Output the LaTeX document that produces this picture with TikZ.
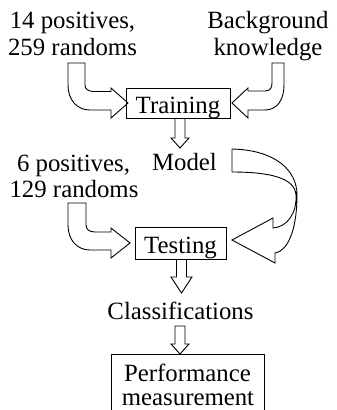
\documentclass[tikz,border=0pt]{standalone}
\usepackage{fontspec}
\setmainfont{Liberation Serif}
\begin{document}
\begin{tikzpicture}[x=1pt,y=-1pt, line width=0.9pt,
  every node/.style={font=\fontsize{24.8}{26.5}\selectfont, inner sep=0pt},
  txt/.style={anchor=base},
  boxnode/.style={draw, text height=20pt, text depth=0pt},
  fat/.style={draw, line join=miter, miter limit=10}]
\clip (0,0) rectangle (337,410);

% text blocks
\node[txt] (a1) at (72.5,28) {14 positives,};
\node[txt] (a2) at (72.5,55) {259 randoms};
\node[txt] (b1) at (268,28) {Background};
\node[txt] (b2) at (268,55) {knowledge};
\node[boxnode, minimum width=104pt, minimum height=30pt] (train) at (178,103) {Training};
\node[txt] (model) at (184.5,170) {Model};
\node[txt] (c1) at (73.5,171) {6 positives,};
\node[txt] (c2) at (74,197) {129 randoms};
\node[boxnode, minimum width=91pt, minimum height=32pt] (test) at (180.5,243) {Testing};
\node[txt] (cls) at (180.5,319) {Classifications};
\node[draw, minimum width=153pt, minimum height=80pt, anchor=north] (perf) at (187.5,354) {};
\node[txt] (p1) at (187.5,381.5) {Performance};
\node[txt] (p2) at (188,405.5) {measurement};

% bent arrow: training data -> Training
\draw[fat] (68,63) -- (85,63) -- (85,85) .. controls (85,89) and (88,91.5) .. (94,91.5)
  -- (111,91.5) -- (111,88) -- (128,103) -- (111,118) -- (111,110) -- (90,110)
  .. controls (77,110) and (68,100) .. (68,85) -- cycle;
% bent arrow: background knowledge -> Training
\draw[fat] (284,63) -- (272,63) -- (272,83) .. controls (272,88) and (270,91) .. (265,91)
  -- (248,91) -- (248,88) -- (232,103) -- (248,118) -- (248,110) -- (265,110)
  .. controls (277,110) and (284,100) .. (284,85) -- cycle;
% bent arrow: test data -> Testing
\draw[fat] (68,203) -- (86,203) -- (86,225) .. controls (86,229) and (89,232) .. (95,232)
  -- (111,232) -- (111,228) -- (130,243) -- (111,258) -- (111,250) -- (90,250)
  .. controls (77,250) and (68,240) .. (68,225) -- cycle;
% curved arrow: Model -> Testing
\draw[fat] (232,149) .. controls (275,150) and (297,170) .. (297,195)
  .. controls (297,225) and (290,250) .. (275,253)
  -- (275,263) -- (232,240) -- (273,218) -- (273,228)
  .. controls (288,227) and (297,212) .. (296,195)
  .. controls (295,178) and (270,172) .. (232,172) -- cycle;

% straight block arrows
\draw[fat] (train.south -| 175,0) -- (175,138) -- (171,138) -- (180,148) -- (189,138) -- (185,138) -- (train.south -| 185,0);
\draw[fat] (test.south -| 176.5,0) -- (176.5,277) -- (171,277) -- (181.5,293) -- (192,277) -- (186.5,277) -- (test.south -| 186.5,0);
\draw[fat] (175,326) -- (185,326) -- (185,344) -- (189,344) -- (180,354) -- (171,344) -- (175,344) -- cycle;
\end{tikzpicture}
\end{document}
